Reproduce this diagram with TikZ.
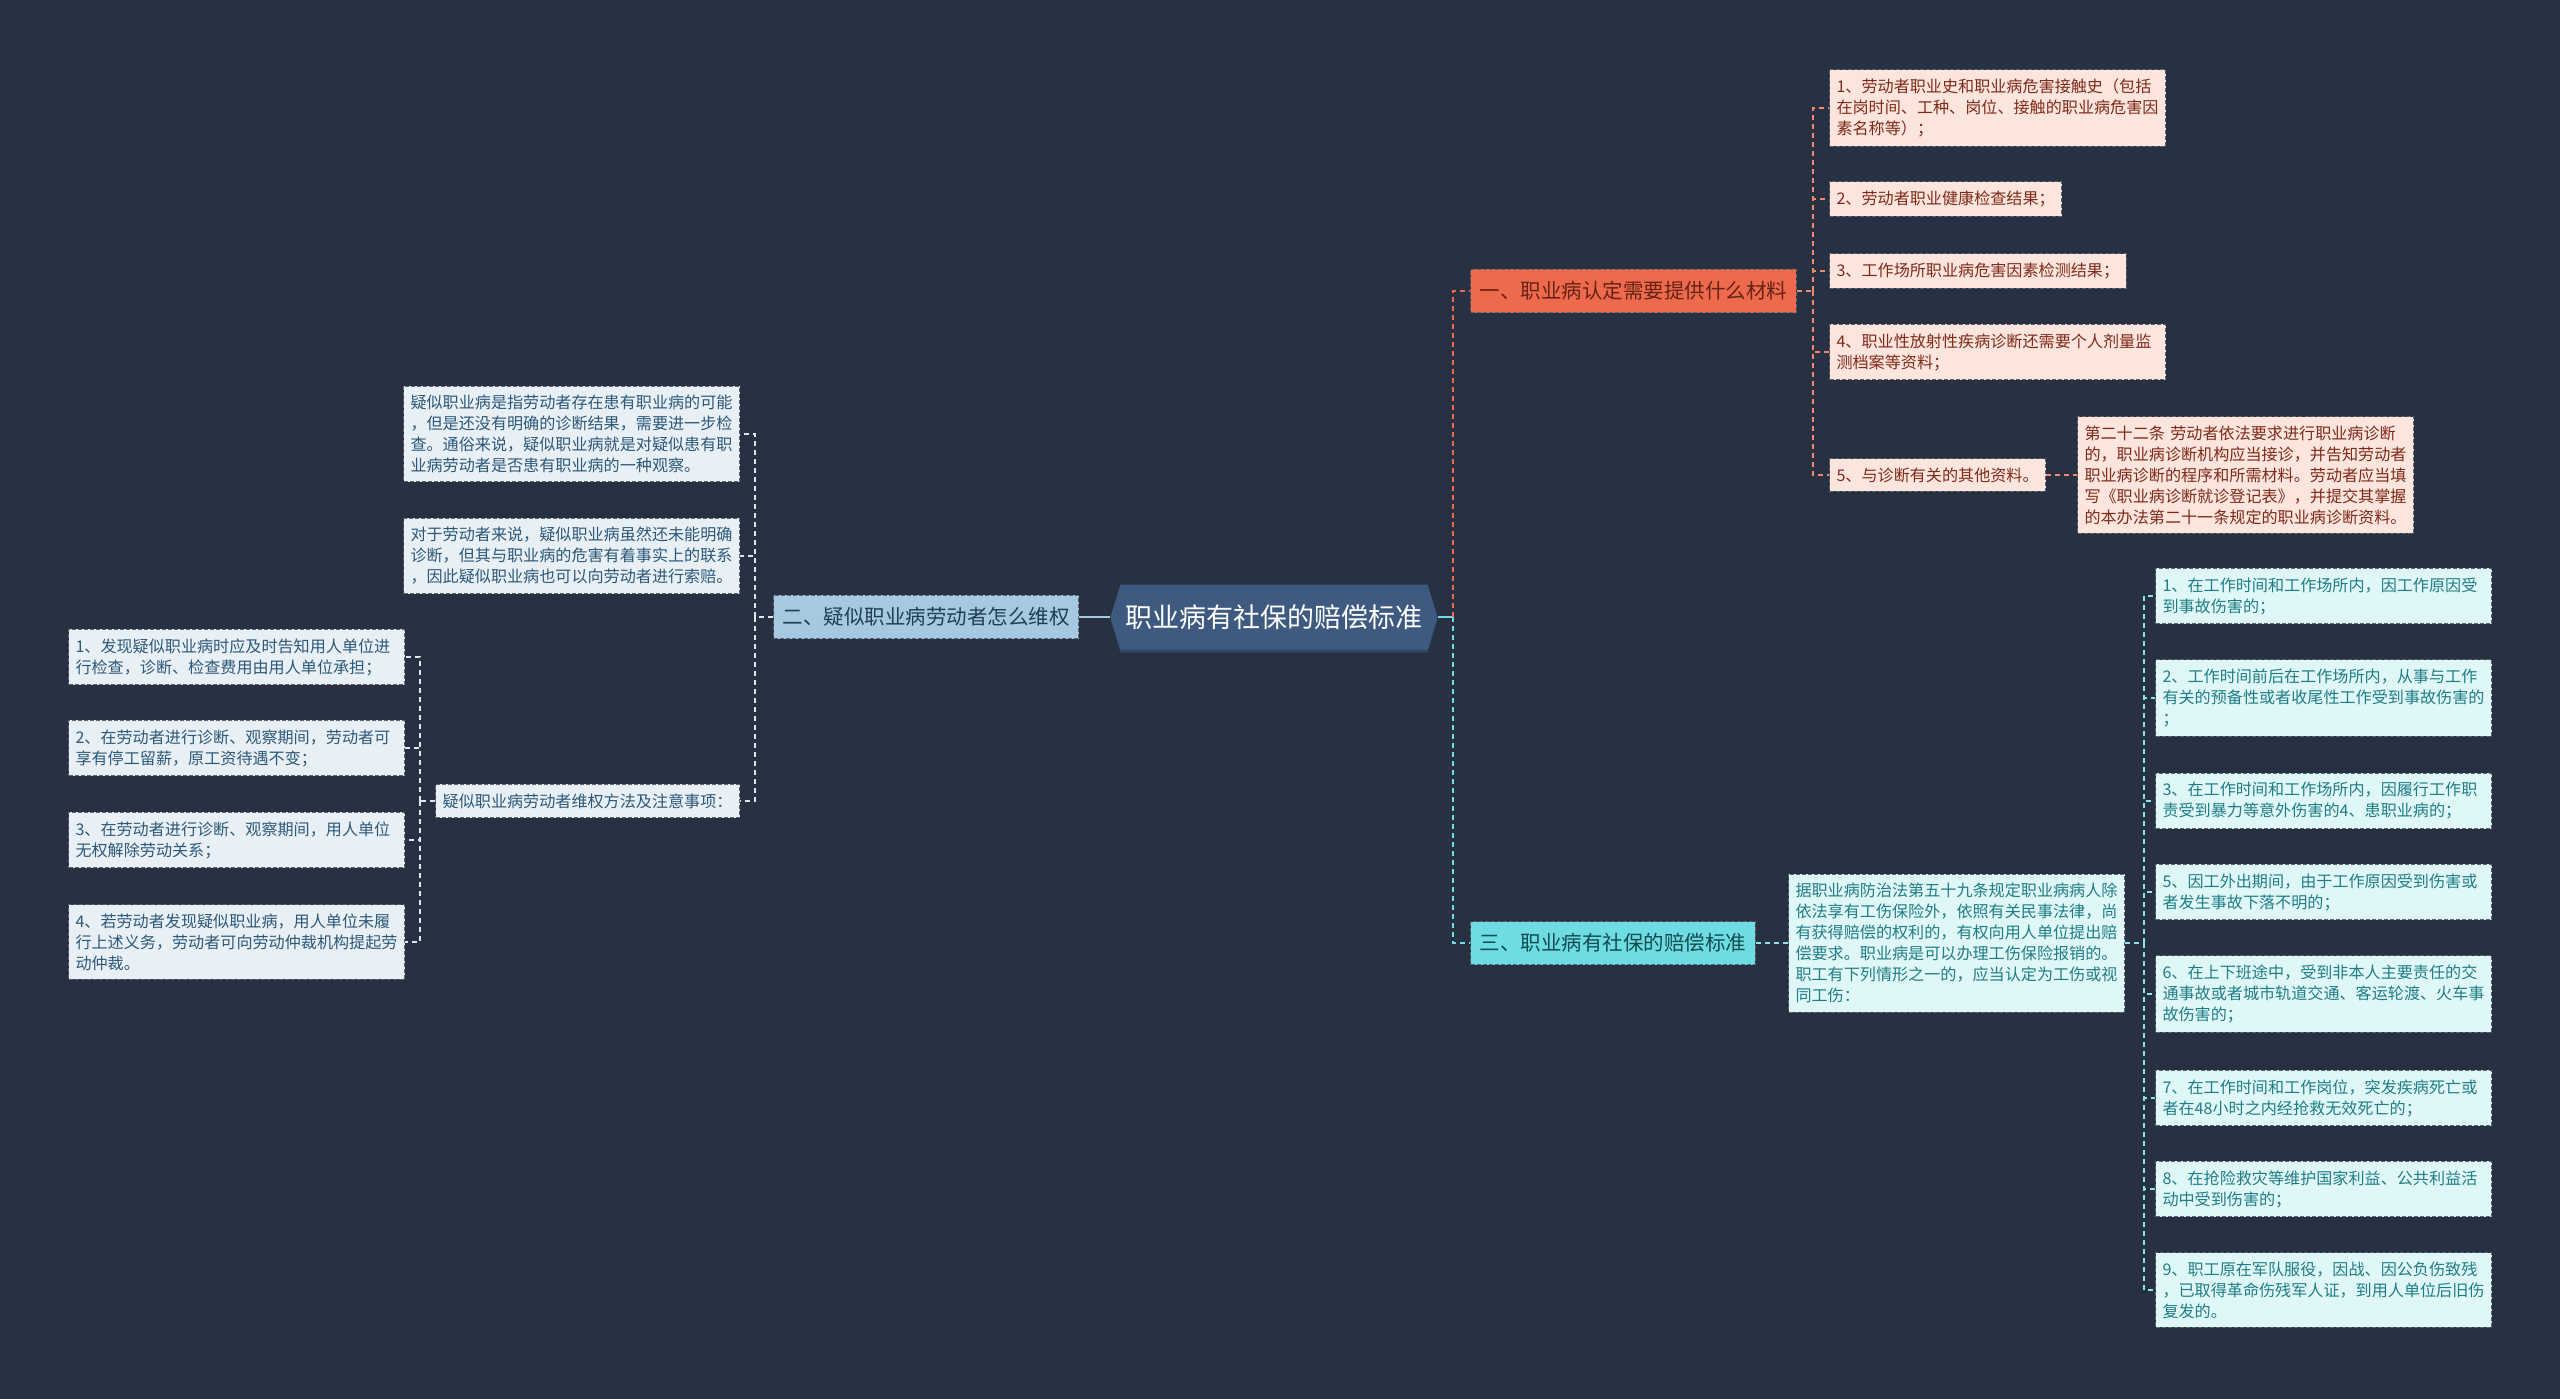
\documentclass[tikz,border=0pt]{standalone}
\usepackage{fontspec}
\setmainfont{Noto Sans CJK SC}
\definecolor{BgDark}{HTML}{283142}
\definecolor{RootBlue}{HTML}{3E5A80}
\definecolor{RootEdge}{HTML}{2E4666}
\definecolor{TopicOrange}{HTML}{EE6A4C}
\definecolor{TopicBlue}{HTML}{A6C9E1}
\definecolor{TopicCyan}{HTML}{6DDDE3}
\definecolor{PinkFill}{HTML}{FCE5DD}
\definecolor{PinkText}{HTML}{7E2A1A}
\definecolor{CyanFill}{HTML}{E0F7F8}
\definecolor{CyanText}{HTML}{1F7D84}
\definecolor{BlueFill}{HTML}{E8F0F6}
\definecolor{BlueText}{HTML}{2D5878}
\definecolor{EdgeGrey}{HTML}{596371}
\usetikzlibrary{shapes.symbols,positioning}

\begin{document}
\begin{tikzpicture}[x=1pt,y=-1pt,
    rootnode/.style={signal,signal to=west and east,signal pointer angle=146,
      fill=RootBlue,text=white,font=\fontsize{27}{32}\selectfont,
      minimum width=327pt,minimum height=65pt,inner xsep=4pt},
    topic/.style={draw=EdgeGrey,dash pattern=on 4pt off 2pt,line width=1pt,
      font=\fontsize{20.5}{24}\selectfont,inner xsep=9pt,inner ysep=12pt},
    leaf/.style={draw=EdgeGrey,dash pattern=on 4pt off 2pt,line width=1pt,
      align=left,font=\fontsize{16.1}{21}\selectfont,inner xsep=7pt,inner ysep=9pt},
    wide/.style={text width=322pt},
    pinkleaf/.style={leaf,fill=PinkFill,text=PinkText},
    cyanleaf/.style={leaf,fill=CyanFill,text=CyanText},
    blueleaf/.style={leaf,fill=BlueFill,text=BlueText},
    link/.style={line width=1.5pt,dash pattern=on 5pt off 4pt}
  ]
  \useasboundingbox (0,0) rectangle (2560,1398);
  \fill[BgDark] (-10,-10) rectangle (2570,1408);

  % centre
  \node[rootnode,fill=RootEdge] at (1274,620) {\phantom{职业病有社保的赔偿标准}};
  \node[rootnode] (root) at (1274,617) {职业病有社保的赔偿标准};

  % first level
  \node[topic,fill=TopicOrange,text=PinkText!80!black,anchor=west] (mat) at (1470,291) {一、职业病认定需要提供什么材料};
  \node[topic,fill=TopicBlue,text=BlueText!70!black,anchor=east] (right) at (1079,617) {二、疑似职业病劳动者怎么维权};
  \node[topic,fill=TopicCyan,text=CyanText!60!black,anchor=west] (comp) at (1470,943) {三、职业病有社保的赔偿标准};

  \coordinate (sR) at (1453,617);
  \coordinate (sM) at (1813,291);
  \coordinate (sL) at (755,617);
  \coordinate (sC) at (2144,943);
  \coordinate (sW) at (420,801);

  % materials
  \node[pinkleaf,wide,anchor=west] (mat1) at (1829,108) {1、劳动者职业史和职业病危害接触史（包括\\在岗时间、工种、岗位、接触的职业病危害因\\素名称等）；};
  \node[pinkleaf,anchor=west] (mat2) at (1829,199) {2、劳动者职业健康检查结果；};
  \node[pinkleaf,anchor=west] (mat3) at (1829,271) {3、工作场所职业病危害因素检测结果；};
  \node[pinkleaf,wide,anchor=west] (mat4) at (1829,352) {4、职业性放射性疾病诊断还需要个人剂量监\\测档案等资料；};
  \node[pinkleaf,anchor=west] (mat5) at (1829,475) {5、与诊断有关的其他资料。};
  \node[pinkleaf,wide,anchor=west] (art22) at (2077,475) {第二十二条 劳动者依法要求进行职业病诊断\\的，职业病诊断机构应当接诊，并告知劳动者\\职业病诊断的程序和所需材料。劳动者应当填\\写《职业病诊断就诊登记表》，并提交其掌握\\的本办法第二十一条规定的职业病诊断资料。};

  % compensation
  \node[cyanleaf,wide,anchor=west] (law) at (1788,943) {据职业病防治法第五十九条规定职业病病人除\\依法享有工伤保险外，依照有关民事法律，尚\\有获得赔偿的权利的，有权向用人单位提出赔\\偿要求。职业病是可以办理工伤保险报销的。\\职工有下列情形之一的，应当认定为工伤或视\\同工伤：};
  \node[cyanleaf,wide,anchor=west] (inj1) at (2155,596) {1、在工作时间和工作场所内，因工作原因受\\到事故伤害的；};
  \node[cyanleaf,wide,anchor=west] (inj2) at (2155,698) {2、工作时间前后在工作场所内，从事与工作\\有关的预备性或者收尾性工作受到事故伤害的\\；};
  \node[cyanleaf,wide,anchor=west] (inj3) at (2155,801) {3、在工作时间和工作场所内，因履行工作职\\责受到暴力等意外伤害的4、患职业病的；};
  \node[cyanleaf,wide,anchor=west] (inj4) at (2155,892) {5、因工外出期间，由于工作原因受到伤害或\\者发生事故下落不明的；};
  \node[cyanleaf,wide,anchor=west] (inj5) at (2155,994) {6、在上下班途中，受到非本人主要责任的交\\通事故或者城市轨道交通、客运轮渡、火车事\\故伤害的；};
  \node[cyanleaf,wide,anchor=west] (inj6) at (2155,1098) {7、在工作时间和工作岗位，突发疾病死亡或\\者在48小时之内经抢救无效死亡的；};
  \node[cyanleaf,wide,anchor=west] (inj7) at (2155,1189) {8、在抢险救灾等维护国家利益、公共利益活\\动中受到伤害的；};
  \node[cyanleaf,wide,anchor=west] (inj8) at (2155,1290) {9、职工原在军队服役，因战、因公负伤致残\\，已取得革命伤残军人证，到用人单位后旧伤\\复发的。};

  % suspected disease
  \node[blueleaf,wide,anchor=east] (def) at (740,434) {疑似职业病是指劳动者存在患有职业病的可能\\，但是还没有明确的诊断结果，需要进一步检\\查。通俗来说，疑似职业病就是对疑似患有职\\业病劳动者是否患有职业病的一种观察。};
  \node[blueleaf,wide,anchor=east] (claim) at (740,556) {对于劳动者来说，疑似职业病虽然还未能明确\\诊断，但其与职业病的危害有着事实上的联系\\，因此疑似职业病也可以向劳动者进行索赔。};
  \node[blueleaf,anchor=east] (way) at (740,801) {疑似职业病劳动者维权方法及注意事项：};
  \node[blueleaf,wide,anchor=east] (way1) at (405,657) {1、发现疑似职业病时应及时告知用人单位进\\行检查，诊断、检查费用由用人单位承担；};
  \node[blueleaf,wide,anchor=east] (way2) at (405,748) {2、在劳动者进行诊断、观察期间，劳动者可\\享有停工留薪，原工资待遇不变；};
  \node[blueleaf,wide,anchor=east] (way3) at (405,840) {3、在劳动者进行诊断、观察期间，用人单位\\无权解除劳动关系；};
  \node[blueleaf,wide,anchor=east] (way4) at (405,942) {4、若劳动者发现疑似职业病，用人单位未履\\行上述义务，劳动者可向劳动仲裁机构提起劳\\动仲裁。};

  % connectors
  \draw[line width=2pt,TopicCyan] (root.east) -- (sR);
  \draw[link,TopicOrange] (sR) |- (mat.west);
  \draw[link,TopicCyan] (sR) |- (comp.west);
  \draw[line width=2pt,TopicBlue] (root.west) -- (right.east);

  \draw[link,TopicOrange!80!white] (mat.east) -- (sM);
  \foreach \n in {mat1,mat2,mat3,mat4,mat5}
    \draw[link,TopicOrange!80!white] (sM) |- (\n.west);
  \draw[link,TopicOrange!80!white] (mat5.east) -- (art22.west);

  \draw[link,TopicCyan!80!white] (comp.east) -- (law.west);
  \draw[link,TopicCyan!80!white] (law.east) -- (sC);
  \foreach \n in {inj1,inj2,inj3,inj4,inj5,inj6,inj7,inj8}
    \draw[link,TopicCyan!80!white] (sC) |- (\n.west);

  \draw[link,BlueFill!80!TopicBlue] (right.west) -- (sL);
  \foreach \n in {def,claim,way}
    \draw[link,BlueFill!80!TopicBlue] (sL) |- (\n.east);
  \draw[link,BlueFill!80!TopicBlue] (way.west) -- (sW);
  \foreach \n in {way1,way2,way3,way4}
    \draw[link,BlueFill!80!TopicBlue] (sW) |- (\n.east);
\end{tikzpicture}
\end{document}
